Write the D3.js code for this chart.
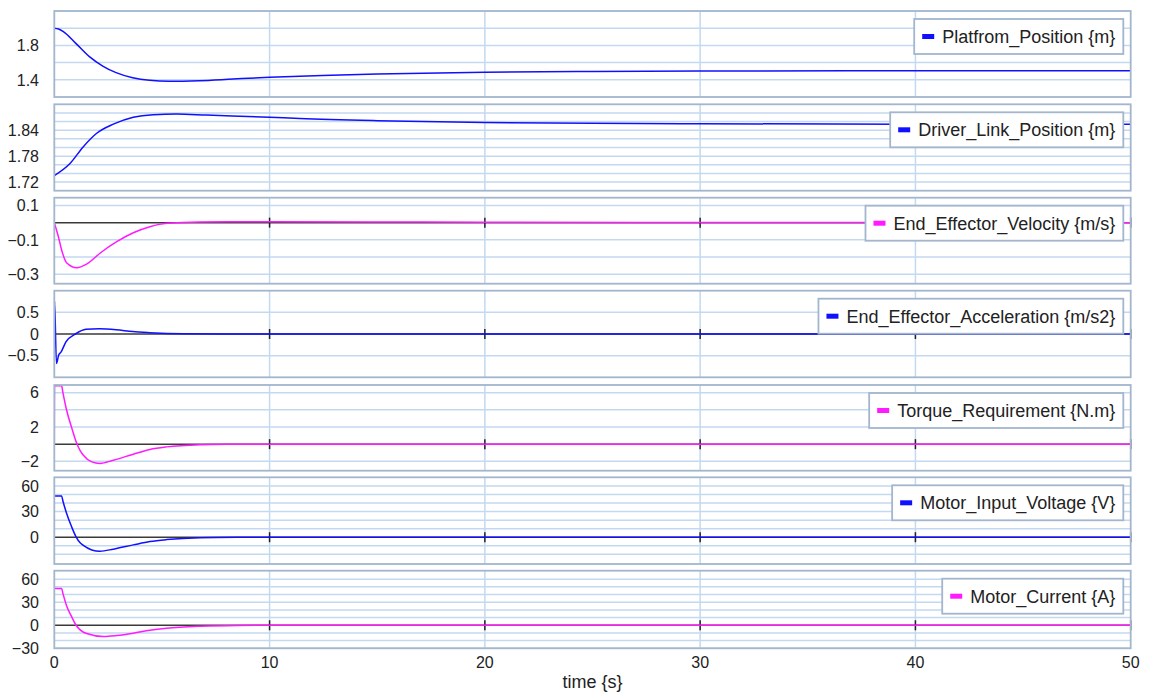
<!DOCTYPE html>
<html>
<head>
<meta charset="utf-8">
<script src="https://cdn.jsdelivr.net/npm/d3@7"></script>
<style>
  html, body { margin: 0; padding: 0; background: #ffffff; }
  svg { display: block; font-family: "Liberation Sans", Arial, sans-serif; }
</style>
</head>
<body>
<svg id="chart" width="1150" height="696"></svg>
<script>
// ---- Simulation results (time in seconds) ----
const tPlatform = [0, 0.2, 0.42, 1, 1.63, 2.25, 2.87, 3.64, 4.42, 5.35, 6.74, 8.3, 10, 11.4, 15, 20, 25, 30, 40, 50];
const platformPosition = [2.0, 1.99, 1.96, 1.824, 1.669, 1.56, 1.483, 1.424, 1.394, 1.383, 1.39, 1.409, 1.429, 1.44, 1.468, 1.488, 1.497, 1.502, 1.505, 1.506];

const tDriver = [0, 0.73, 1.35, 1.97, 2.74, 3.67, 4.6, 5.68, 7.07, 10, 11.4, 15, 20, 25, 30, 40, 50];
const driverLinkPosition = [1.735, 1.763, 1.802, 1.833, 1.854, 1.870, 1.876, 1.8775, 1.875, 1.870, 1.867, 1.862, 1.858, 1.856, 1.855, 1.854, 1.854];

const tVelocity = [0, 0.19, 0.34, 0.57, 1.04, 1.50, 2.12, 2.9, 3.67, 4.44, 5.22, 6.77, 10, 15, 20, 30, 50];
const endEffectorVelocity = [0, -0.082, -0.159, -0.233, -0.262, -0.241, -0.178, -0.111, -0.059, -0.024, -0.004, 0.004, 0.005, 0.004, 0.002, 0.001, 0];

const tAccel = [0, 0.012, 0.1, 0.2, 0.31, 0.54, 0.98, 1.47, 2.09, 2.87, 3.64, 4.42, 6, 8, 10, 50];
const endEffectorAcceleration = [0, 0.76, -0.68, -0.49, -0.42, -0.18, 0, 0.108, 0.122, 0.10, 0.055, 0.03, 0.005, 0.001, 0, 0];

const tTorque = [0, 0.01, 0.34, 0.40, 0.57, 0.81, 1.04, 1.2, 1.35, 1.74, 2.12, 2.74, 3.67, 4.44, 5.22, 6.77, 8, 10, 50];
const torqueRequirement = [0, 6.8, 6.8, 6.0, 3.98, 1.9, 0.1, -0.75, -1.3, -2.07, -2.25, -1.87, -1.17, -0.62, -0.32, -0.07, -0.02, 0, 0];

const tVoltage = [0, 0.34, 0.40, 0.57, 0.80, 1.01, 1.2, 1.35, 1.74, 2.12, 2.74, 3.67, 4.44, 5.22, 6.77, 8.5, 10, 50];
const motorInputVoltage = [48.4, 48.4, 42.4, 28.1, 12.5, 0.5, -6.5, -9.6, -14.9, -16.4, -14, -9, -5.1, -2.8, -0.6, -0.1, 0, 0];

const tCurrent = [0, 0.34, 0.40, 0.57, 0.80, 1.01, 1.2, 1.50, 2.29, 2.90, 3.67, 4.44, 5.22, 6.77, 8.5, 10, 50];
const motorCurrent = [47.8, 47.8, 41.5, 25.5, 11.5, 0, -6.0, -10.8, -14.7, -13.4, -10.4, -6.5, -3.9, -1.3, -0.2, 0, 0];

// ---- Axis ticks ----
const timeTicks = [0, 10, 20, 30, 40, 50];
const timeGrid = [10, 20, 30, 40];
const platformTicks = [1.4, 1.8];
const platformGrid = [1.4, 1.6, 1.8, 2.0];
const driverTicks = [1.72, 1.78, 1.84];
const driverGrid = [1.72, 1.74, 1.76, 1.78, 1.80, 1.82, 1.84, 1.86, 1.88];
const velocityTicks = [0.1, -0.1, -0.3];
const velocityGrid = [0.1, 0, -0.1, -0.2, -0.3];
const accelTicks = [0.5, 0, -0.5];
const accelGrid = [0.5, 0, -0.5];
const torqueTicks = [6, 2, -2];
const torqueGrid = [6, 4, 2, 0, -2];
const voltageTicks = [60, 30, 0];
const voltageGrid = [60, 50, 40, 30, 20, 10, 0, -10, -20];
const currentTicks = [60, 30, 0, -30];
const currentGrid = [60, 50, 40, 30, 20, 10, 0, -10, -20, -30];

const BLUE = "#1010ff";
const MAGENTA = "#ff1aff";

const panels = [
  { name: "Platfrom_Position {m}", t: tPlatform, v: platformPosition, domain: [1.2, 2.2], ticks: platformTicks, grid: platformGrid, color: BLUE, fmt: d3.format(".1f"), zero: false },
  { name: "Driver_Link_Position {m}", t: tDriver, v: driverLinkPosition, domain: [1.70, 1.90], ticks: driverTicks, grid: driverGrid, color: BLUE, fmt: d3.format(".2f"), zero: false },
  { name: "End_Effector_Velocity {m/s}", t: tVelocity, v: endEffectorVelocity, domain: [-0.355, 0.145], ticks: velocityTicks, grid: velocityGrid, color: MAGENTA, fmt: d3.format(".1f"), zero: true },
  { name: "End_Effector_Acceleration {m/s2}", t: tAccel, v: endEffectorAcceleration, domain: [-1, 1], ticks: accelTicks, grid: accelGrid, color: BLUE, fmt: d => d === 0 ? "0" : d3.format(".1f")(d), zero: true },
  { name: "Torque_Requirement {N.m}", t: tTorque, v: torqueRequirement, domain: [-3.1, 6.9], ticks: torqueTicks, grid: torqueGrid, color: MAGENTA, fmt: d3.format("d"), zero: true },
  { name: "Motor_Input_Voltage {V}", t: tVoltage, v: motorInputVoltage, domain: [-31.4, 70.2], ticks: voltageTicks, grid: voltageGrid, color: BLUE, fmt: d3.format("d"), zero: true },
  { name: "Motor_Current {A}", t: tCurrent, v: motorCurrent, domain: [-30, 71], ticks: currentTicks, grid: currentGrid, color: MAGENTA, fmt: d3.format("d"), zero: true }
];

// ---- Layout ----
const left = 54.3, right = 1130.7;
const panelBoxes = [
  [11, 97], [104.3, 190.7], [197.7, 283.7], [290.7, 377.3],
  [385, 470.7], [477.3, 564], [570.7, 648.3]
];
const GRID = "#c3d9f1";
const FRAME = "#a2b6ce";

const svg = d3.select("#chart");
const x = d3.scaleLinear().domain([0, 50]).range([left, right]);

panels.forEach((p, i) => {
  const [top, bottom] = panelBoxes[i];
  const y = d3.scaleLinear().domain(p.domain).range([bottom, top]);
  const g = svg.append("g");

  const clipId = "clip" + i;
  svg.append("clipPath").attr("id", clipId)
    .append("rect").attr("x", left).attr("y", top).attr("width", right - left).attr("height", bottom - top);

  // horizontal grid
  g.selectAll(".hg").data(p.grid.filter(d => !(p.zero && d === 0))).join("line")
    .attr("x1", left).attr("x2", right)
    .attr("y1", d => y(d)).attr("y2", d => y(d))
    .attr("stroke", GRID).attr("stroke-width", 1.5);

  // vertical grid
  g.selectAll(".vg").data(timeGrid).join("line")
    .attr("x1", d => x(d)).attr("x2", d => x(d))
    .attr("y1", top).attr("y2", bottom)
    .attr("stroke", GRID).attr("stroke-width", 1.5);

  // zero axis with time ticks
  if (p.zero) {
    const y0 = y(0);
    g.append("line").attr("x1", left).attr("x2", right).attr("y1", y0).attr("y2", y0)
      .attr("stroke", "#3a3a3a").attr("stroke-width", 1.5);
    g.selectAll(".zt").data(timeTicks.filter(d => d > 0)).join("line")
      .attr("x1", d => x(d)).attr("x2", d => x(d))
      .attr("y1", y0 - 5).attr("y2", y0 + 5)
      .attr("stroke", "#222").attr("stroke-width", 1.5);
  }

  // series
  const line = d3.line()
    .x((d, k) => x(p.t[k]))
    .y(d => y(d))
    .curve(d3.curveMonotoneX);
  g.append("path").datum(p.v)
    .attr("clip-path", `url(#${clipId})`)
    .attr("d", line)
    .attr("fill", "none").attr("stroke", p.color).attr("stroke-width", 1.5);

  // frame
  g.append("rect").attr("x", left).attr("y", top)
    .attr("width", right - left).attr("height", bottom - top)
    .attr("fill", "none").attr("stroke", FRAME).attr("stroke-width", 1.8);

  // y tick labels
  g.selectAll(".yl").data(p.ticks).join("text")
    .attr("x", 39).attr("y", d => y(d)).attr("dy", "0.36em")
    .attr("text-anchor", "end").attr("font-size", 16).attr("fill", "#222")
    .text(p.fmt);

  // legend
  const lg = g.append("g");
  const txt = lg.append("text").attr("font-size", 18).attr("fill", "#222").text(p.name);
  const tw = txt.node().getComputedTextLength();
  const bw = tw + 36, bh = 35;
  const bx = 1123.3 - bw, by = top + 8;
  lg.insert("rect", "text").attr("x", bx).attr("y", by).attr("width", bw).attr("height", bh)
    .attr("fill", "#fff").attr("stroke", FRAME).attr("stroke-width", 1.8);
  lg.append("rect").attr("x", bx + 8).attr("y", by + bh / 2 - 2.5).attr("width", 12).attr("height", 5)
    .attr("fill", p.color);
  txt.attr("x", bx + 28).attr("y", by + bh / 2 + 6.5);
});

// time axis labels
svg.append("g").selectAll("text").data(timeTicks).join("text")
  .attr("x", d => x(d)).attr("y", 667.5)
  .attr("text-anchor", "middle").attr("font-size", 16).attr("fill", "#222")
  .text(d => d);

svg.append("text").attr("x", (left + right) / 2).attr("y", 688)
  .attr("text-anchor", "middle").attr("font-size", 18).attr("fill", "#222")
  .text("time {s}");
</script>
</body>
</html>
